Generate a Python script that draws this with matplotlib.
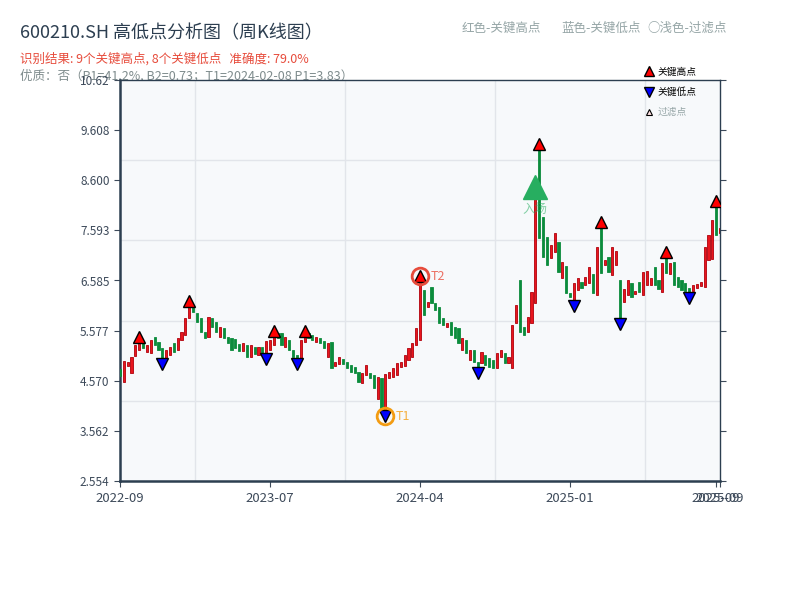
import numpy as np
import matplotlib
matplotlib.use("Agg")
import matplotlib.pyplot as plt
from matplotlib.lines import Line2D

plt.rcParams['font.family'] = ['Noto Sans CJK SC', 'DejaVu Sans']

# weekly candles (open / close)
opens = [4.81, 4.54, 4.87, 4.73, 5.07, 5.19, 5.33, 5.15, 5.13, 5.45,
         5.35, 5.23, 5.03, 5.09, 5.33, 5.19, 5.39, 5.49, 5.83, 6.05,
         5.93, 5.83, 5.55, 5.45, 5.83, 5.75, 5.45, 5.63, 5.45, 5.43,
         5.41, 5.31, 5.17, 5.29, 5.05, 5.25, 5.09, 5.25, 5.13, 5.19,
         5.29, 5.53, 5.53, 5.25, 5.39, 5.19, 5.09, 5.03, 5.35, 5.53,
         5.49, 5.35, 5.43, 5.37, 5.05, 5.35, 4.87, 4.91, 5.01, 4.95,
         4.89, 4.85, 4.75, 4.52, 4.69, 4.73, 4.69, 4.20, 4.63, 3.98,
         4.63, 4.65, 4.69, 4.85, 4.87, 4.99, 5.05, 5.29, 5.39, 6.39,
         6.05, 6.45, 6.13, 6.05, 5.83, 5.65, 5.75, 5.65, 5.63, 5.19,
         5.39, 4.99, 5.19, 4.95, 4.93, 5.09, 5.03, 4.99, 4.83, 5.05,
         5.13, 4.93, 4.83, 5.73, 6.59, 5.65, 5.55, 5.73, 6.13, 9.21,
         7.86, 7.46, 7.04, 7.16, 7.36, 6.64, 6.88, 6.33, 6.19, 6.39,
         6.55, 6.49, 6.53, 6.72, 6.29, 7.64, 6.90, 7.06, 6.70, 6.90,
         6.59, 6.15, 6.29, 6.53, 6.31, 6.55, 6.29, 6.49, 6.49, 6.86,
         6.59, 6.35, 7.04, 6.72, 6.96, 6.66, 6.59, 6.53, 6.43, 6.37,
         6.43, 6.47, 6.45, 7.00, 7.02, 8.06, 7.54]
closes = [4.67, 4.97, 4.95, 5.05, 5.29, 5.33, 5.23, 5.29, 5.39, 5.29,
          5.19, 5.03, 5.19, 5.25, 5.15, 5.43, 5.55, 5.83, 6.05, 5.95,
          5.75, 5.55, 5.43, 5.85, 5.65, 5.55, 5.65, 5.43, 5.33, 5.19,
          5.23, 5.17, 5.33, 5.05, 5.29, 5.11, 5.25, 5.11, 5.37, 5.39,
          5.45, 5.43, 5.29, 5.45, 5.19, 5.05, 5.03, 5.39, 5.45, 5.43,
          5.39, 5.45, 5.33, 5.23, 5.33, 4.83, 4.95, 5.05, 4.91, 4.83,
          4.75, 4.73, 4.54, 4.73, 4.89, 4.63, 4.42, 4.65, 3.98, 4.71,
          4.75, 4.83, 4.93, 4.95, 5.09, 5.23, 5.33, 5.63, 6.55, 5.89,
          6.15, 6.13, 5.99, 5.73, 5.69, 5.73, 5.49, 5.43, 5.33, 5.43,
          5.13, 5.19, 4.95, 4.85, 5.15, 4.89, 4.85, 4.83, 5.13, 5.19,
          4.93, 5.05, 5.69, 6.09, 5.55, 5.49, 5.85, 6.35, 8.30, 7.44,
          7.06, 6.90, 7.30, 7.54, 6.76, 6.96, 6.33, 6.25, 6.53, 6.64,
          6.43, 6.66, 6.86, 6.33, 7.26, 6.74, 7.00, 6.76, 7.26, 7.18,
          5.83, 6.41, 6.59, 6.25, 6.37, 6.35, 6.76, 6.78, 6.64, 6.49,
          6.41, 6.94, 6.74, 6.94, 6.49, 6.45, 6.39, 6.37, 6.35, 6.49,
          6.51, 6.55, 7.26, 7.50, 7.80, 7.50, 7.64]

key_highs = [5, 18, 40, 48, 78, 109, 125, 142, 155]
key_lows = [11, 38, 46, 69, 93, 118, 130, 148]
t1_idx = 69
t2_idx = 78
entry_idx = 108

tick_pos = [0, 39, 78, 117, 155, 156]
tick_labels = ["2022-09", "2023-07", "2024-04", "2025-01", "2025-09", "2025-09"]
ytick_vals = [2.554, 3.562, 4.570, 5.577, 6.585, 7.593, 8.600, 9.608, 10.616]
ytick_labels = ["2.554", "3.562", "4.570", "5.577", "6.585", "7.593", "8.600", "9.608", "10.62"]

opens = np.array(opens)
closes = np.array(closes)
idx = np.arange(len(opens))
up = closes >= opens
tops = np.maximum(opens, closes)
bots = np.minimum(opens, closes)

fig = plt.figure(figsize=(8, 6), dpi=100)
ax = fig.add_axes([0.15, 0.198, 0.75, 0.669])
ax.set_facecolor('#f7f9fb')

# candle bodies
ax.bar(idx[up], (tops - bots)[up], bottom=bots[up], width=0.55,
       color='#e8161e', edgecolor='#b0000a', linewidth=0.6, zorder=3)
ax.bar(idx[~up], (tops - bots)[~up], bottom=bots[~up], width=0.55,
       color='#0b8c3c', edgecolor='#0b8c3c', linewidth=0.6, zorder=3)

off = 0.12
ax.plot(key_highs, tops[key_highs] + off, '^', ms=9, mfc='#ff0000', mec='black',
        mew=1, ls='none', zorder=5)
ax.plot(key_lows, bots[key_lows] - off, 'v', ms=9, mfc='#0000ff', mec='black',
        mew=1, ls='none', zorder=5)

# T1 / T2 rings
ax.plot(t1_idx, bots[t1_idx] - off, 'o', ms=12, mfc='none', mec='#f39c12', mew=2, zorder=6)
ax.text(t1_idx + 2.8, bots[t1_idx] - off, "T1", color='#f5b041', fontsize=9,
        va='center', zorder=6)
ax.plot(t2_idx, tops[t2_idx] + off, 'o', ms=12, mfc='none', mec='#e74c3c', mew=2, zorder=6)
ax.text(t2_idx + 2.8, tops[t2_idx] + off, "T2", color='#ec7063', fontsize=9,
        va='center', zorder=6)

# entry
ax.plot(entry_idx, tops[entry_idx] + 0.17, '^', ms=17, color='#27ae60', zorder=6)
ax.text(entry_idx, tops[entry_idx] - 0.28, "入场", color='#27ae60', alpha=0.55,
        fontsize=9, ha='center', va='center', zorder=6)

ax.set_xlim(0, 156)
ax.set_ylim(2.554, 10.616)
ax.set_xticks(tick_pos)
ax.set_xticklabels(tick_labels)
ax.set_yticks(ytick_vals)
ax.set_yticklabels(ytick_labels)
ax.set_xticks(np.linspace(0, 156, 9), minor=True)
ax.set_yticks(np.linspace(2.554, 10.616, 6), minor=True)
ax.grid(True, which='minor', color='#e2e5ea', linewidth=1)
ax.grid(False, which='major')
ax.tick_params(which='minor', length=0)
ax.tick_params(which='major', colors='#3d4a5a', length=4)
ax.tick_params(axis='x', labelsize=9.5)
ax.tick_params(axis='y', labelsize=8.5, right=True)
ax.set_axisbelow(True)

for s in ['left', 'bottom']:
    ax.spines[s].set_linewidth(1.8)
    ax.spines[s].set_color('#2c3e50')
for s in ['top', 'right']:
    ax.spines[s].set_linewidth(1.0)
    ax.spines[s].set_color('#2c3e50')

# header text
fig.text(20 / 800, 1 - 33 / 600, "600210.SH 高低点分析图（周K线图）", fontsize=13,
         color='#2c3e50', va='center')
fig.text(20 / 800, 1 - 59 / 600, "识别结果: 9个关键高点, 8个关键低点   准确度: 79.0%",
         fontsize=9, color='#e74c3c', va='center')
fig.text(20 / 800, 1 - 76 / 600, "优质：否（P1=41.2%, B2=0.73；T1=2024-02-08 P1=3.83）",
         fontsize=9, color='#7f8c8d', va='center', zorder=-1)
fig.text(462 / 800, 1 - 28 / 600, "红色-关键高点", fontsize=9, color='#95a5a6', va='center')
fig.text(561 / 800, 1 - 28 / 600, "蓝色-关键低点", fontsize=9, color='#95a5a6', va='center')
fig.text(727 / 800, 1 - 28 / 600, "○浅色-过滤点", fontsize=9, color='#95a5a6',
         va='center', ha='right')

handles = [
    Line2D([], [], marker='^', ls='none', ms=7, mfc='#ff0000', mec='black'),
    Line2D([], [], marker='v', ls='none', ms=7, mfc='#0000ff', mec='black'),
    Line2D([], [], marker='^', ls='none', ms=5, mfc='#ffe0e0', mec='black', mew=0.8),
]
leg = fig.legend(handles, ["关键高点", "关键低点", "过滤点"], loc='upper left',
                 bbox_to_anchor=(638 / 800, 1 - 62 / 600), frameon=False,
                 fontsize=7, labelspacing=1.05, handletextpad=0.3, handlelength=1.2,
                 borderpad=0)
leg.get_texts()[2].set_color('#95a5a6')

fig.savefig("out.png", dpi=100)
